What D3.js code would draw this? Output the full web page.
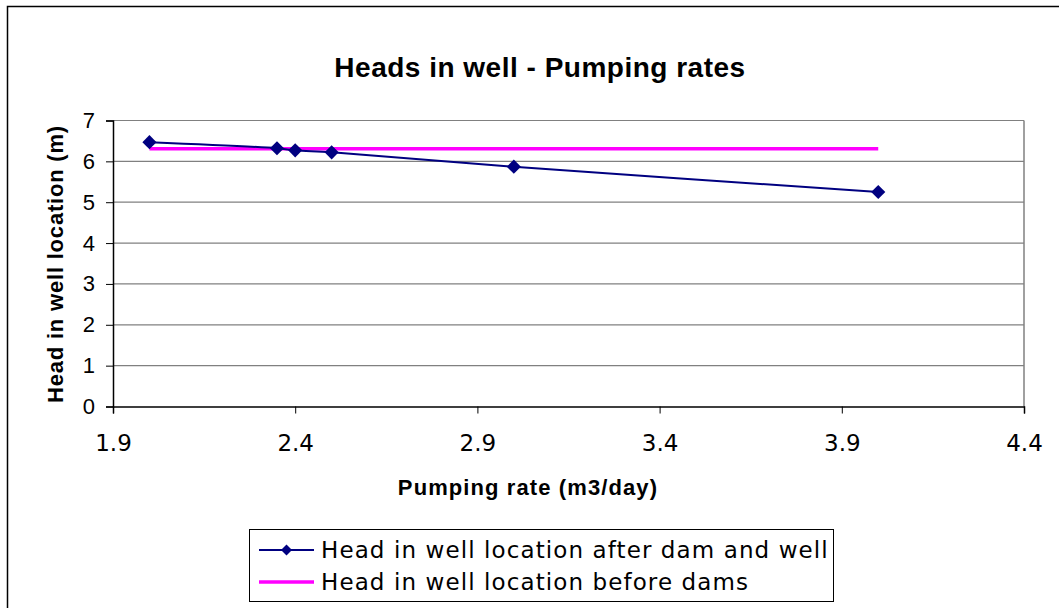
<!DOCTYPE html>
<html>
<head>
<meta charset="utf-8">
<script src="https://cdn.jsdelivr.net/npm/d3@7"></script>
<style>
  body { margin: 0; background: #fff; }
  svg { display: block; }
</style>
</head>
<body>
<div id="chart"></div>
<script>
// pumping rate (m3/day) and heads
var pumpingRates = [2.0, 2.35, 2.4, 2.5, 3.0, 4.0];
var headsAfter = [6.47, 6.32, 6.27, 6.22, 5.87, 5.25];
var headBeforeX = [2.0, 4.0];
var headBefore = [6.31, 6.31];
var xTicks = [1.9, 2.4, 2.9, 3.4, 3.9, 4.4];
var yTicks = [0, 1, 2, 3, 4, 5, 6, 7];

var W = 1059, H = 608;
var margin = {top: 120.5, right: 35, bottom: 201.5, left: 113},
    width = W - margin.left - margin.right,
    height = H - margin.top - margin.bottom;

var svg = d3.select("#chart")
    .append("svg")
    .attr("width", W)
    .attr("height", H);

// outer chart frame
svg.append("rect")
    .attr("x", 7.5).attr("y", 6.5)
    .attr("width", W).attr("height", H)
    .attr("fill", "none")
    .attr("stroke", "#000")
    .attr("stroke-width", 1.5);

var g = svg.append("g")
    .attr("transform", "translate(" + margin.left + "," + margin.top + ")");

var x = d3.scaleLinear().domain([1.9, 4.4]).range([0, width]);
var y = d3.scaleLinear().domain([0, 7]).range([height, 0]);

// gridlines
g.selectAll(".grid")
    .data(yTicks.slice(1))
    .enter().append("line")
    .attr("x1", 0).attr("x2", width)
    .attr("y1", function(d) { return y(d); })
    .attr("y2", function(d) { return y(d); })
    .attr("stroke", "#808080")
    .attr("stroke-width", 1.2);

// right border
g.append("line")
    .attr("x1", width).attr("x2", width)
    .attr("y1", 0).attr("y2", height)
    .attr("stroke", "#808080")
    .attr("stroke-width", 1.5);

var yAxis = g.append("g")
    .call(d3.axisLeft(y).tickValues(yTicks).tickSize(7).tickPadding(11).tickFormat(d3.format("d")));
yAxis.select(".domain").attr("stroke", "#000").attr("stroke-width", 1.5);
yAxis.selectAll(".tick line").attr("stroke", "#000");
yAxis.selectAll("text")
    .attr("font-family", "Liberation Sans, Arial, sans-serif")
    .attr("font-size", 22)
    .attr("fill", "#000");

var xAxis = g.append("g")
    .attr("transform", "translate(0," + height + ")")
    .call(d3.axisBottom(x).tickValues(xTicks).tickSize(7).tickPadding(21).tickFormat(d3.format(".1f")));
xAxis.select(".domain").attr("stroke", "#000").attr("stroke-width", 1.5);
xAxis.selectAll(".tick line").attr("stroke", "#000");
xAxis.selectAll("text")
    .attr("font-family", "DejaVu Sans, sans-serif")
    .attr("font-size", 23)
    .attr("fill", "#000");

// before dams line
var beforeData = headBeforeX.map(function(d, i) { return [d, headBefore[i]]; });
g.append("path")
    .datum(beforeData)
    .attr("fill", "none")
    .attr("stroke", "#ff00ff")
    .attr("stroke-width", 3.5)
    .attr("d", d3.line()
        .x(function(d) { return x(d[0]); })
        .y(function(d) { return y(d[1]); }));

// after dam and well line (smoothed)
var afterData = pumpingRates.map(function(d, i) { return [d, headsAfter[i]]; });
g.append("path")
    .datum(afterData)
    .attr("fill", "none")
    .attr("stroke", "#000080")
    .attr("stroke-width", 2)
    .attr("d", d3.line()
        .curve(d3.curveCatmullRom)
        .x(function(d) { return x(d[0]); })
        .y(function(d) { return y(d[1]); }));

g.selectAll(".marker")
    .data(afterData)
    .enter().append("path")
    .attr("transform", function(d) { return "translate(" + x(d[0]) + "," + y(d[1]) + ") rotate(45)"; })
    .attr("d", d3.symbol().type(d3.symbolSquare).size(100))
    .attr("fill", "#000080");

// title and axis labels
svg.append("text")
    .attr("x", 540).attr("y", 77)
    .attr("text-anchor", "middle")
    .attr("font-family", "Liberation Sans, Arial, sans-serif")
    .attr("font-weight", "bold")
    .attr("font-size", 28)
    .attr("letter-spacing", 0.5)
    .text("Heads in well - Pumping rates");

svg.append("text")
    .attr("x", 528).attr("y", 495)
    .attr("text-anchor", "middle")
    .attr("font-family", "Liberation Sans, Arial, sans-serif")
    .attr("font-weight", "bold")
    .attr("font-size", 22)
    .attr("letter-spacing", 1.1)
    .text("Pumping rate (m3/day)");

svg.append("text")
    .attr("transform", "translate(63,264) rotate(-90)")
    .attr("text-anchor", "middle")
    .attr("font-family", "Liberation Sans, Arial, sans-serif")
    .attr("font-weight", "bold")
    .attr("font-size", 22)
    .attr("letter-spacing", 0.8)
    .text("Head in well location (m)");

// legend
var legend = svg.append("g").attr("transform", "translate(249,529)");
legend.append("rect")
    .attr("x", 0.5).attr("y", 0.5)
    .attr("width", 584).attr("height", 72)
    .attr("fill", "#fff")
    .attr("stroke", "#000")
    .attr("stroke-width", 1);

var legendItems = [
    {label: "Head in well location after dam and well", color: "#000080", width: 2, marker: true},
    {label: "Head in well location before dams", color: "#ff00ff", width: 3.5, marker: false}
];
var li = legend.selectAll(".item")
    .data(legendItems)
    .enter().append("g")
    .attr("transform", function(d, i) { return "translate(0," + (21 + i * 32) + ")"; });
li.append("line")
    .attr("x1", 10).attr("x2", 65)
    .attr("stroke", function(d) { return d.color; })
    .attr("stroke-width", function(d) { return d.width; });
li.filter(function(d) { return d.marker; })
    .append("path")
    .attr("transform", "translate(37.5,0) rotate(45)")
    .attr("d", d3.symbol().type(d3.symbolSquare).size(60))
    .attr("fill", "#000080");
li.append("text")
    .attr("x", 72).attr("y", 7.5)
    .attr("font-family", "DejaVu Sans, sans-serif")
    .attr("font-size", 23)
    .attr("letter-spacing", 1.1)
    .text(function(d) { return d.label; });
</script>
</body>
</html>
